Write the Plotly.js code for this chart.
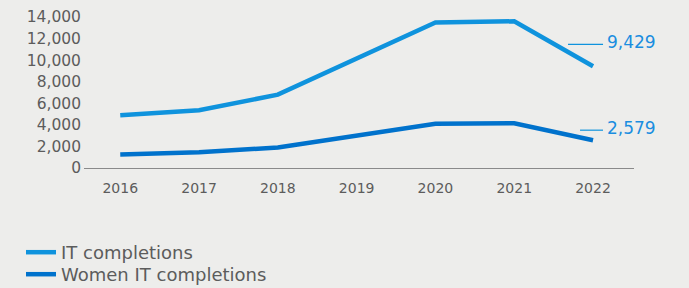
<!DOCTYPE html>
<html>
<head>
<meta charset="utf-8">
<script src="https://cdn.plot.ly/plotly-3.0.1.min.js"></script>
<style>html,body{margin:0;padding:0;background:#ededeb;}#chart{width:689px;height:288px;}</style>
</head>
<body>
<div id="chart"></div>
<script>
const years = ['2016','2017','2018','2019','2020','2021','2022'];
const itCompletions = [4900, 5350, 6800, 10100, 13500, 13600, 9429];
const womenItCompletions = [1250, 1450, 1900, 3000, 4100, 4150, 2579];
const yTickVals = [0, 2000, 4000, 6000, 8000, 10000, 12000, 14000];
const yTickText = ['0', '2,000', '4,000', '6,000', '8,000', '10,000', '12,000', '14,000'];
const seriesNames = ['IT completions', 'Women IT completions'];
const lastLabels = ['9,429', '2,579'];

const lightBlue = '#0f93dd';
const darkBlue = '#0072cc';
const textGrey = '#5c5c5c';
const font = '"DejaVu Sans", sans-serif';

const traces = [
  {x: years, y: itCompletions, name: seriesNames[0], type: 'scatter', mode: 'lines',
   line: {color: lightBlue, width: 4.5}, hoverinfo: 'skip', legend: 'legend'},
  {x: years, y: womenItCompletions, name: seriesNames[1], type: 'scatter', mode: 'lines',
   line: {color: darkBlue, width: 4.5}, hoverinfo: 'skip', legend: 'legend2'}
];

const lastIdx = years.length - 1;
const labelOffsets = [{dy: 22, x0: -25}, {dy: 10, x0: -13}];
const seriesLast = [itCompletions[lastIdx], womenItCompletions[lastIdx]];

const shapes = seriesLast.map((v, i) => ({
  type: 'line', xref: 'x', yref: 'y',
  xsizemode: 'pixel', ysizemode: 'pixel',
  xanchor: lastIdx, yanchor: v,
  x0: labelOffsets[i].x0, x1: 10, y0: labelOffsets[i].dy, y1: labelOffsets[i].dy,
  line: {color: lightBlue, width: 1.2}
}));

const annotations = seriesLast.map((v, i) => ({
  x: lastIdx, y: v, xref: 'x', yref: 'y', text: lastLabels[i], showarrow: false,
  xanchor: 'left', yanchor: 'middle', xshift: 12, yshift: labelOffsets[i].dy + 2,
  font: {family: font, size: 17, color: '#1a8de0'}
}));

function legendAt(topPx) {
  return {
    orientation: 'v', xref: 'container', yref: 'container',
    x: 21 / 689, y: 1 - topPx / 288, xanchor: 'left', yanchor: 'top',
    font: {family: font, size: 18, color: textGrey},
    bgcolor: 'rgba(0,0,0,0)', itemwidth: 30
  };
}

const layout = {
  width: 689, height: 288,
  paper_bgcolor: '#ededeb', plot_bgcolor: '#ededeb',
  margin: {l: 84, r: 55, t: 17, b: 120, autoexpand: false},
  font: {family: font, color: textGrey, size: 14},
  showlegend: true,
  legend: legendAt(234),
  legend2: legendAt(256),
  xaxis: {
    type: 'category', range: [-0.46, 6.52], automargin: false,
    showgrid: false, zeroline: false, showline: false, ticks: '',
    ticklabelstandoff: 10,
    tickfont: {family: font, size: 14, color: textGrey}
  },
  yaxis: {
    range: [0, 14000], automargin: false,
    showgrid: false, zeroline: true, zerolinecolor: '#8a8a8a', zerolinewidth: 1,
    showline: false, ticks: '',
    tickvals: yTickVals, ticktext: yTickText,
    tickfont: {family: font, size: 15.5, color: textGrey},
    ticklabelstandoff: 2
  },
  shapes: shapes,
  annotations: annotations
};

Plotly.newPlot('chart', traces, layout, {displayModeBar: false, staticPlot: true});
</script>
</body>
</html>
